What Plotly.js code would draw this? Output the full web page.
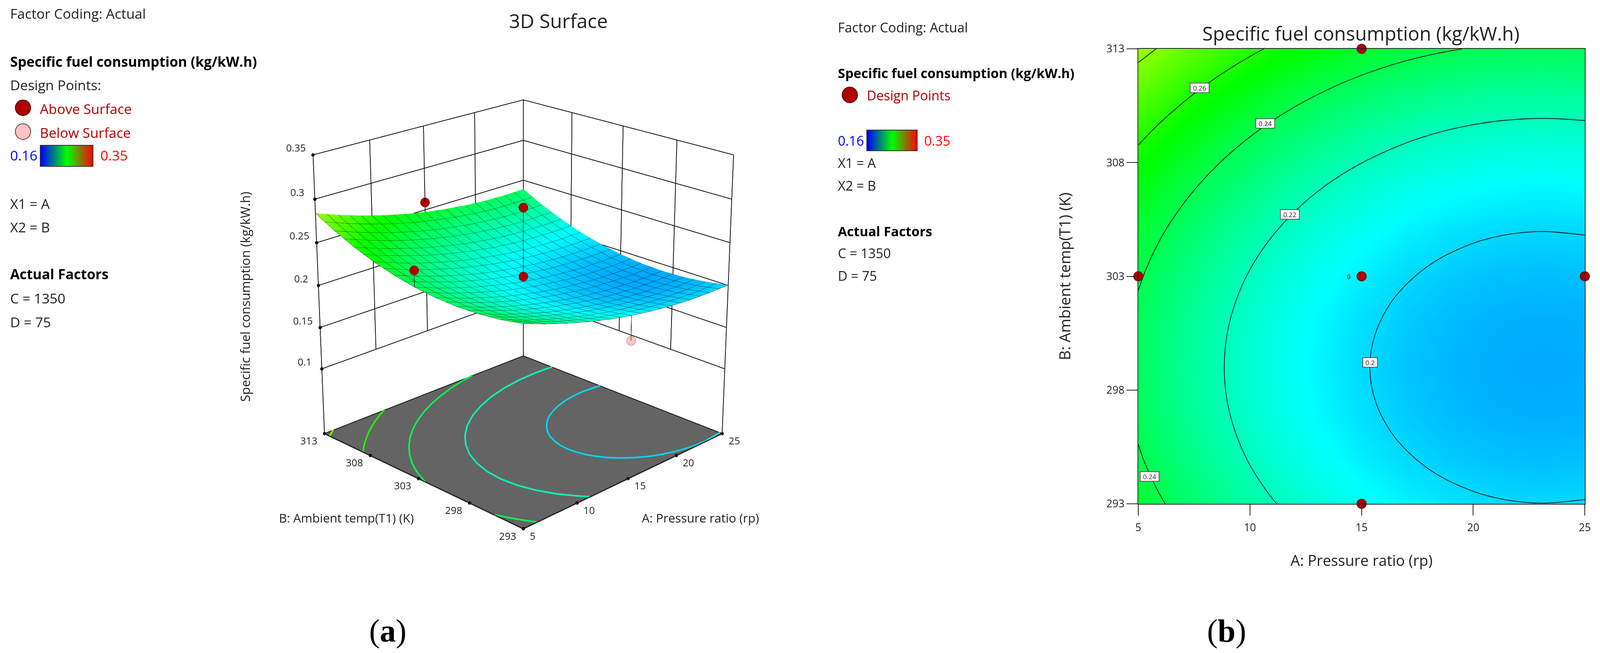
<!DOCTYPE html>
<html>
<head>
<meta charset="utf-8">
<script src="https://cdn.plot.ly/plotly-3.0.1.min.js"></script>
<style>
html, body { margin: 0; padding: 0; background: #fff; overflow: hidden; width: 100%; height: 1672px; }
#scene3d { position: absolute; top: -1237px; width: 1500px; height: 4000px; transform-origin: 0 0; }
#main { position: absolute; left: 0; top: 0; height: 1672px; }
</style>
</head>
<body>
<div id="scene3d"></div>
<div id="main"></div>
<script>
// the window can come up narrower than the reference (seen: 4096 instead of 4176),
// so positions stay in reference pixels and get fitted to the real width
const REF_W = 4176, H = 1672;
const W = window.innerWidth;
const fit = W / REF_W;
const FONT = '"Open Sans", "Noto Sans", sans-serif';

// values
const pressureRatio = [5, 7, 9, 11, 13, 15, 17, 19, 21, 23, 25];
const ambientTemp = [293, 295, 297, 299, 301, 303, 305, 307, 309, 311, 313];
const sfc = [
  [.2458, .2363, .2279, .2206, .2144, .2094, .2054, .2025, .2007, .2001, .2005],
  [.2410, .2315, .2231, .2159, .2097, .2046, .2006, .1977, .1960, .1953, .1958],
  [.2382, .2287, .2203, .2130, .2068, .2017, .1978, .1949, .1931, .1925, .1929],
  [.2372, .2277, .2193, .2120, .2059, .2008, .1968, .1939, .1922, .1915, .1920],
  [.2382, .2287, .2203, .2130, .2068, .2017, .1978, .1949, .1931, .1925, .1929],
  [.2410, .2315, .2231, .2159, .2097, .2046, .2006, .1977, .1960, .1953, .1958],
  [.2458, .2363, .2279, .2206, .2144, .2094, .2054, .2025, .2007, .2001, .2005],
  [.2524, .2430, .2346, .2273, .2211, .2160, .2120, .2092, .2074, .2067, .2072],
  [.2610, .2515, .2431, .2358, .2297, .2246, .2206, .2177, .2160, .2153, .2158],
  [.2715, .2620, .2536, .2463, .2401, .2351, .2311, .2282, .2264, .2258, .2262],
  [.2839, .2744, .2660, .2587, .2525, .2474, .2435, .2406, .2388, .2382, .2386]
];
const aTicks = [5, 10, 15, 20, 25];
const bTicks = [293, 298, 303, 308, 313];
const zTicks = [0.1, 0.15, 0.2, 0.25, 0.3, 0.35];
const zFloor = 0.02;

// contour lines (A, B)
const c20A = [25, 23.2, 22.18, 21.17, 20.2, 19.29, 18.43, 17.66, 16.99, 16.42, 15.97, 15.64, 15.44, 15.37, 15.44, 15.64, 15.97, 16.42, 16.99, 17.66, 18.43, 19.29, 20.2, 21.17, 22.18, 23.2, 25];
const c20B = [304.81, 304.97, 304.92, 304.77, 304.52, 304.17, 303.74, 303.22, 302.63, 301.99, 301.28, 300.55, 299.78, 299, 298.22, 297.45, 296.72, 296.01, 295.37, 294.78, 294.26, 293.83, 293.48, 293.23, 293.08, 293.03, 293.19];
const c22A = [25, 23.2, 21.33, 19.49, 17.71, 16.03, 14.46, 13.05, 11.81, 10.77, 9.94, 9.34, 8.97, 8.85, 8.97, 9.34, 9.94, 10.77, 11.2];
const c22B = [309.85, 309.94, 309.85, 309.57, 309.11, 308.47, 307.68, 306.74, 305.66, 304.47, 303.19, 301.83, 300.43, 299, 297.57, 296.17, 294.81, 293.53, 293];
const c24A = [19.5, 18.35, 16.79, 15.28, 13.84, 12.46, 11.16, 9.96, 8.85, 7.86, 6.98, 6.22, 5.6, 5.29, 5];
const c24B = [313, 312.79, 312.42, 311.94, 311.37, 310.7, 309.94, 309.1, 308.18, 307.19, 306.14, 305.03, 303.88, 303.18, 302.38];
const c24lowA = [5, 5.21, 5.49, 5.82, 6.2];
const c24lowB = [295.62, 295, 294.35, 293.67, 293];
const c26A = [10.62, 9.8, 8.89, 8.16, 7.46, 6.79, 6.15, 5.54, 5];
const c26B = [313, 312.55, 312, 311.51, 311, 310.46, 309.91, 309.33, 308.77];
const c28A = [5.8, 5.4, 5];
const c28B = [313, 312.7, 312.4];
const contourSets = [
  { a: c20A, b: c20B, color: '#00d7ff' },
  { a: c22A, b: c22B, color: '#00ffbc' },
  { a: c24A, b: c24B, color: '#00ff51' },
  { a: c24lowA, b: c24lowB, color: '#00ff51' },
  { a: c26A, b: c26B, color: '#1bff00' },
  { a: c28A, b: c28B, color: '#86ff00' }
];

// design points
const pointA = [5, 15, 15, 25, 15];
const pointB = [303, 313, 303, 303, 293];
const aboveA = [15, 5, 15, 15];
const aboveB = [313, 303, 303, 303];
const aboveZ = [0.2592, 0.2597, 0.2905, 0.2106];
const aboveSurf = [0.2474, 0.2410, 0.2046, 0.2046];
const belowA = [15, 25];
const belowB = [293, 303];
const belowZ = [0.181, 0.18];
const belowSurf = [0.2094, 0.1958];

const rainbow = [[0, '#0000ff'], [0.25, '#00ffff'], [0.5, '#00ff00'], [0.75, '#ffff00'], [1, '#ff0000']];
const legendValues = [0.16, 0.255, 0.35];
const legendScale = [[0, '#0000ff'], [0.5, '#00ff00'], [1, '#ff0000']];

// ---- 3D panel ----
const sceneDiv = document.getElementById('scene3d');
sceneDiv.style.left = (616 * fit) + 'px';
sceneDiv.style.transform = 'scaleX(' + fit + ')';
document.getElementById('main').style.width = W + 'px';

function wallLines() {
  let x = [], y = [], z = [];
  const add = (a, b, c) => { x.push(a); y.push(b); z.push(c); };
  const gap = () => add(null, null, null);
  const zTop = zTicks[zTicks.length - 1];
  const zLow = zTicks[0];
  aTicks.forEach(a => { add(a, 313, a == 5 || a == 25 ? zFloor : zLow); add(a, 313, zTop); gap(); });
  bTicks.forEach(b => { add(25, b, b == 313 || b == 293 ? zFloor : zLow); add(25, b, zTop); gap(); });
  zTicks.forEach(c => { add(5, 313, c); add(25, 313, c); add(25, 293, c); gap(); });
  add(5, 293, zFloor); add(25, 293, zFloor); add(25, 313, zFloor); add(5, 313, zFloor); add(5, 293, zFloor);
  return { x, y, z };
}
function stems(a, b, top, bottom) {
  let x = [], y = [], z = [];
  a.forEach((v, i) => { x.push(v, v, null); y.push(b[i], b[i], null); z.push(top[i], bottom[i], null); });
  return { x, y, z };
}
const walls = wallLines();
const stemAbove = stems(aboveA, aboveB, aboveZ, aboveSurf);
const stemBelow = stems(belowA, belowB, belowZ, belowSurf);
const dotsX = [], dotsY = [], dotsZ = [];
zTicks.forEach(c => { dotsX.push(5); dotsY.push(313); dotsZ.push(c); });
aTicks.forEach(a => { dotsX.push(a); dotsY.push(293); dotsZ.push(zFloor); });
bTicks.forEach(b => { dotsX.push(5); dotsY.push(b); dotsZ.push(zFloor); });

const data3d = [
  {
    type: 'surface', x: pressureRatio, y: ambientTemp, z: sfc,
    colorscale: rainbow, cmin: 0.16, cmax: 0.35, showscale: false, hoverinfo: 'skip',
    lighting: { ambient: 1, diffuse: 0, specular: 0, roughness: 1, fresnel: 0 },
    contours: {
      x: { show: true, start: 5, end: 25, size: 1, color: '#000', width: 3, highlight: false },
      y: { show: true, start: 293, end: 313, size: 1, color: '#000', width: 3, highlight: false },
      z: { show: false, highlight: false }
    }
  },
  { type: 'scatter3d', mode: 'lines', x: walls.x, y: walls.y, z: walls.z, line: { color: '#111', width: 4 }, hoverinfo: 'skip' },
  { type: 'scatter3d', mode: 'lines', x: stemAbove.x, y: stemAbove.y, z: stemAbove.z, line: { color: '#222', width: 3 }, hoverinfo: 'skip' },
  { type: 'scatter3d', mode: 'lines', x: stemBelow.x, y: stemBelow.y, z: stemBelow.z, line: { color: '#222', width: 3 }, hoverinfo: 'skip' },
  { type: 'scatter3d', mode: 'markers', x: dotsX, y: dotsY, z: dotsZ, marker: { size: 5, color: '#000' }, hoverinfo: 'skip' },
  { type: 'scatter3d', mode: 'markers', x: aboveA, y: aboveB, z: aboveZ, marker: { size: 14, color: '#b00000', line: { color: '#400', width: 1 } }, hoverinfo: 'skip' },
  { type: 'scatter3d', mode: 'markers', x: belowA, y: belowB, z: belowZ, marker: { size: 14, color: '#ffc4c4', line: { color: '#633', width: 1 } }, hoverinfo: 'skip' }
];
contourSets.forEach(s => data3d.push({
  type: 'scatter3d', mode: 'lines', x: s.a, y: s.b, z: s.a.map(() => zFloor + 0.0005),
  line: { color: s.color, width: 8 }, hoverinfo: 'skip'
}));

const sceneTicks = [];
const tickFont = { family: FONT, size: 26, color: '#222' };
zTicks.forEach(c => sceneTicks.push({ x: 5, y: 313, z: c, text: String(c), showarrow: false, xshift: -45, yshift: 18, font: tickFont }));
aTicks.forEach(a => sceneTicks.push({ x: a, y: 293, z: zFloor, text: String(a), showarrow: false, xshift: a == 5 ? 24 : 32, yshift: -18, font: tickFont }));
bTicks.forEach(b => sceneTicks.push({ x: 5, y: b, z: zFloor, text: String(b), showarrow: false, xshift: -41, yshift: -18, font: tickFont }));

const hidden3d = { showgrid: false, zeroline: false, showline: false, showticklabels: false, ticks: '', showspikes: false, showbackground: false, title: { text: '' } };

Plotly.newPlot('scene3d', data3d, {
  width: 1500, height: 4000, margin: { l: 0, r: 0, t: 0, b: 0 },
  paper_bgcolor: 'rgba(0,0,0,0)', showlegend: false,
  scene: {
    domain: { x: [0, 1], y: [0, 1] },
    bgcolor: 'rgba(0,0,0,0)',
    aspectmode: 'manual', aspectratio: { x: 1, y: 1, z: 1.01 },
    camera: { eye: { x: -4.21, y: -4.21, z: 2.26 }, center: { x: 0, y: 0, z: 0 }, up: { x: 0, y: 0, z: 1 }, projection: { type: 'perspective' } },
    // ranges a hair past the walls, lines sitting exactly on the bound get clipped away
    xaxis: Object.assign({}, hidden3d, { range: [4.95, 25.05] }),
    yaxis: Object.assign({}, hidden3d, { range: [292.95, 313.05] }),
    zaxis: Object.assign({}, hidden3d, { range: [zFloor - 0.0005, 0.3508], showbackground: true, backgroundcolor: '#646464' }),
    annotations: sceneTicks
  }
}, { displayModeBar: false });

// ---- 2D panel and text ----
const px = v => v / REF_W;
const py = v => 1 - v / H;
const textColor = '#222';
function label(x, y, text, size, color, opts) {
  return Object.assign({
    xref: 'paper', yref: 'paper', x: px(x), y: py(y), text: text, showarrow: false,
    xanchor: 'left', yanchor: 'middle', font: { family: FONT, size: size, color: color || textColor }
  }, opts || {});
}
const SA = 36 * fit, SB = 34.5 * fit;
const centered = { xanchor: 'center' };

const annotations = [
  label(24, 34, 'Factor Coding: Actual', SA),
  label(24, 157, '<b>Specific fuel consumption (kg/kW.h)</b>', SA, '#000'),
  label(24, 217, 'Design Points:', SA),
  label(102, 278, 'Above Surface', SA, '#b00000'),
  label(102, 339, 'Below Surface', SA, '#b00000'),
  label(24, 397, '0.16', SA, '#0000ff'),
  label(260, 397, '0.35', SA, '#ff0000'),
  label(24, 521, 'X1 = A', SA),
  label(24, 581, 'X2 = B', SA),
  label(24, 701, '<b>Actual Factors</b>', SA, '#000'),
  label(24, 763, 'C = 1350', SA),
  label(24, 824, 'D = 75', SA),

  label(2185, 70, 'Factor Coding: Actual', SB),
  label(2185, 187, '<b>Specific fuel consumption (kg/kW.h)</b>', SB, '#000'),
  label(2260, 244, 'Design Points', SB, '#b00000'),
  label(2185, 360, '0.16', SB, '#0000ff'),
  label(2410, 360, '0.35', SB, '#ff0000'),
  label(2185, 417, 'X1 = A', SB),
  label(2185, 475, 'X2 = B', SB),
  label(2185, 592, '<b>Actual Factors</b>', SB, '#000'),
  label(2185, 648, 'C = 1350', SB),
  label(2185, 706, 'D = 75', SB),

  label(1457, 53, '3D Surface', 51 * fit, textColor, centered),
  label(639, 760, 'Specific fuel consumption (kg/kW.h)', 32.5, textColor, { xanchor: 'center', textangle: -90 }),
  label(904, 1325, 'B: Ambient temp(T1) (K)', 32 * fit, textColor, centered),
  label(1828, 1325, 'A: Pressure ratio (rp)', 32 * fit, textColor, centered),
  label(3552, 85, 'Specific fuel consumption (kg/kW.h)', 50 * fit, textColor, centered)
];
[['(<b>a</b>)', 1012], ['(<b>b</b>)', 3201]].forEach(p => annotations.push(
  { xref: 'paper', yref: 'paper', x: px(p[1]), y: py(1615), text: p[0], showarrow: false, xanchor: 'center', yanchor: 'middle',
    font: { family: '"Liberation Serif", serif', size: 82, color: '#000' } }));

// contour labels sitting on the lines
const labelA = [7.75, 10.69, 11.79, 15.39, 5.5];
const labelB = [311.28, 309.72, 305.72, 299.22, 294.2];
const labelText = ['0.26', '0.24', '0.22', '0.2', '0.24'];
labelText.forEach((t, i) => annotations.push({
  xref: 'x', yref: 'y', x: labelA[i], y: labelB[i], text: t, showarrow: false,
  width: t.length > 3 ? 45 : 34, height: 21,
  bgcolor: '#fff', bordercolor: '#333', borderwidth: 1.5, borderpad: 1,
  font: { family: FONT, size: 17, color: textColor }
}));
annotations.push({ xref: 'x', yref: 'y', x: 14.42, y: 303, text: '6', showarrow: false, font: { family: FONT, size: 17, color: textColor } });

function legendDot(cx, cy, fill, stroke) {
  return {
    type: 'circle', xref: 'paper', yref: 'paper',
    x0: px(cx - 20), x1: px(cx + 20), y0: py(cy + 20), y1: py(cy - 20),
    fillcolor: fill, line: { color: stroke, width: 2 }
  };
}

const mainData = [
  {
    type: 'heatmap', x: pressureRatio, y: ambientTemp, z: sfc, zsmooth: 'best',
    colorscale: rainbow, zmin: 0.16, zmax: 0.35, zauto: false, showscale: false, hoverinfo: 'skip'
  }
];
contourSets.forEach(s => mainData.push({
  type: 'scatter', mode: 'lines', x: s.a, y: s.b, hoverinfo: 'skip',
  line: { color: '#111', width: 1.8, shape: 'spline', smoothing: 1 }
}));
mainData.push(
  {
    type: 'scatter', mode: 'markers', x: pointA, y: pointB, cliponaxis: false,
    marker: { size: 24, color: '#b00000', line: { color: '#400', width: 1.5 } }, hoverinfo: 'skip'
  },
  { type: 'heatmap', x: [0, 1, 2], y: [0, 1], z: [legendValues, legendValues], xaxis: 'x2', yaxis: 'y2', zsmooth: 'best', colorscale: legendScale, zmin: 0.16, zmax: 0.35, showscale: false, hoverinfo: 'skip' },
  { type: 'heatmap', x: [0, 1, 2], y: [0, 1], z: [legendValues, legendValues], xaxis: 'x3', yaxis: 'y3', zsmooth: 'best', colorscale: legendScale, zmin: 0.16, zmax: 0.35, showscale: false, hoverinfo: 'skip' }
);

const barX = { range: [0, 2], showticklabels: false, ticks: '', showgrid: false, zeroline: false, showline: true, mirror: true, linecolor: '#333', linewidth: 2 };
const barY = { range: [0, 1], showticklabels: false, ticks: '', showgrid: false, zeroline: false, showline: true, mirror: true, linecolor: '#333', linewidth: 2 };
const axisStyle = {
  showgrid: false, zeroline: false, showline: true, mirror: true, linecolor: '#222', linewidth: 2,
  ticks: 'outside', ticklen: 28, tickwidth: 2, tickcolor: '#222',
  tickfont: { family: FONT, size: 27, color: '#222' }
};

Plotly.newPlot('main', mainData, {
  width: W, height: H, margin: { l: 0, r: 0, t: 0, b: 0 },
  paper_bgcolor: 'rgba(0,0,0,0)', plot_bgcolor: 'rgba(0,0,0,0)', showlegend: false, hovermode: false,
  xaxis: Object.assign({}, axisStyle, {
    domain: [px(2971), px(4136.5)], range: [5, 25], tickvals: aTicks, ticklabelstandoff: 8,
    title: { text: 'A: Pressure ratio (rp)', standoff: 55, font: { family: FONT, size: 38, color: '#222' } }
  }),
  yaxis: Object.assign({}, axisStyle, {
    domain: [py(1290), py(125)], range: [293, 313], tickvals: bTicks,
    title: { text: 'B: Ambient temp(T1) (K)', standoff: 80, font: { family: FONT, size: 39, color: '#222' } }
  }),
  xaxis2: Object.assign({}, barX, { domain: [px(106), px(242)], anchor: 'y2' }),
  yaxis2: Object.assign({}, barY, { domain: [py(425), py(373)], anchor: 'x2' }),
  xaxis3: Object.assign({}, barX, { domain: [px(2263), px(2393)], anchor: 'y3' }),
  yaxis3: Object.assign({}, barY, { domain: [py(385), py(334)], anchor: 'x3' }),
  annotations: annotations,
  shapes: [
    legendDot(60, 276, '#b00000', '#400'),
    legendDot(60, 337, '#ffc4c4', '#633'),
    legendDot(2218, 243, '#b00000', '#400')
  ]
}, { displayModeBar: false });
</script>
</body>
</html>
